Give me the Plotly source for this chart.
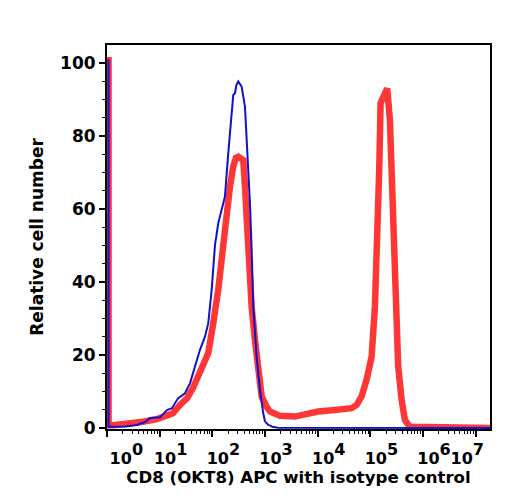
import plotly.graph_objects as go

# Isotype control (blue) histogram: fluorescence value, relative cell number
iso_x = [1.07, 1.07, 1.244, 2.196, 3.71, 5.26, 6.55, 10.13, 13.76, 17.12, 22.25, 30.2, 37.6,
         50.4, 58.2, 72.4, 83.6, 97.0, 112.0, 129.4, 150.2, 173.4, 200.3, 225.4, 249.3,
         268.5, 286.6, 310.1, 359.7, 415.6, 447.7, 480.0, 517.0, 556.8, 597.2, 692.9,
         800.4, 924.5, 995.6, 1140, 1380, 1750, 2.0e7]
iso_y = [101.0, 0.3, 0.3, 0.4, 0.8, 1.6, 2.7, 2.9, 4.9, 5.4, 8.1, 9.5, 12.2,
         18.6, 21.4, 25.0, 28.7, 37.8, 50.0, 56.1, 59.7, 63.4, 75.3, 84.4, 91.2,
         91.7, 94.0, 94.9, 93.5, 88.0, 79.8, 70.7, 61.6, 48.8, 33.2, 19.5,
         10.4, 4.0, 1.8, 0.9, 0.3, 0.05, 0.0]

# CD8 (OKT8) APC stained (red) histogram
cd8_x = [1.07, 1.07, 1.30, 3.11, 4.82, 8.89, 13.76, 17.88, 24.28, 32.96, 42.85, 50.4,
         58.2, 67.2, 83.6, 104.0, 129.4, 161.0, 186.7, 215.8, 249.3, 280.4, 310.1,
         349.0, 385.9, 415.6, 447.7, 480.0, 556.8, 643.2, 743.0, 861.9, 1072.5, 1239,
         1918, 3694, 5717, 10220, 21210, 43990, 54720, 68080, 84730, 105400, 121700,
         136000, 146900, 156100, 208400, 234400, 252600, 270900, 291700, 337000,
         390800, 451400, 561700, 2.0e7]
cd8_y = [101.6, 0.7, 0.7, 1.1, 1.7, 2.4, 3.6, 4.0, 6.3, 8.1, 10.9, 13.2,
         15.0, 16.8, 20.5, 28.7, 37.8, 50.0, 58.8, 66.1, 71.6, 74.0, 74.3,
         74.0, 73.4, 66.1, 57.0, 48.8, 33.2, 24.1, 15.0, 8.6, 5.8, 4.5,
         3.3, 3.1, 3.7, 4.5, 4.9, 5.4, 6.3, 8.6, 13.2, 19.5, 33.2,
         50.0, 70.7, 89.0, 93.0, 84.4, 70.7, 48.8, 33.2, 16.8,
         7.7, 2.2, 0.3, 0.0]

x_tick_vals = [1, 10, 100, 1000, 10000, 100000, 1000000, 10000000]
x_tick_exps = ["0", "1", "2", "3", "4", "5", "6", "7"]
y_tick_vals = [0, 20, 40, 60, 80, 100]

x_title = "CD8 (OKT8) APC with isotype control"
y_title = "Relative cell number"

FONT = "DejaVu Sans"

fig = go.Figure()
fig.add_trace(go.Scatter(x=cd8_x, y=cd8_y, mode="lines",
                         line=dict(color="rgb(255,54,54)", width=6.5),
                         showlegend=False))
fig.add_trace(go.Scatter(x=iso_x, y=iso_y, mode="lines",
                         line=dict(color="rgb(16,16,208)", width=2),
                         showlegend=False))

# edge labels nudged inward (leading / trailing no-break spaces), as in the original
NB = "\u00a0"
lead = [3, 0, 0, 0, 0, 0, 0, 0]
trail = [0, 0, 0, 0, 0, 0, 0, 7]
x_tick_text = [NB * lead[i] + "10<span style='font-size:23px'><sup>%s</sup></span>" % e + NB * trail[i]
               for i, e in enumerate(x_tick_exps)]
minor_vals = [m * 10 ** d for d in range(0, 8) for m in range(2, 10)]

fig.update_layout(
    width=511, height=503,
    margin=dict(l=107, r=21, t=45, b=74),
    plot_bgcolor="white", paper_bgcolor="white",
    font=dict(family=FONT, color="black", size=16),
    xaxis=dict(
        type="log", range=[0, 7.27], automargin=False,
        showline=True, linecolor="black", linewidth=2, mirror=True,
        showgrid=False, zeroline=False,
        ticks="outside", ticklen=6, tickwidth=1.5, tickcolor="black",
        tickvals=x_tick_vals, ticktext=x_tick_text, tickangle=0,
        ticklabelshift=11, ticklabelstandoff=8, ticklabeloverflow="allow",
        tickfont=dict(family=FONT, size=16, weight="bold"),
        minor=dict(ticks="outside", ticklen=3, tickwidth=1.2, tickcolor="black",
                   tickvals=minor_vals, showgrid=False),
        title=dict(text=x_title, font=dict(family=FONT, size=16.6, weight="bold"),
                   standoff=0),
    ),
    yaxis=dict(
        range=[-0.3, 104.9], automargin=False,
        showline=True, linecolor="black", linewidth=2, mirror=True,
        showgrid=False, zeroline=False,
        ticks="outside", ticklen=6, tickwidth=1.5, tickcolor="black",
        tickvals=y_tick_vals,
        tickfont=dict(family=FONT, size=17, weight="bold"),
        minor=dict(ticks="outside", ticklen=3, tickwidth=1.2, tickcolor="black",
                   dtick=5, tick0=0, showgrid=False),
        title=dict(text=y_title, font=dict(family=FONT, size=17, weight="bold"),
                   standoff=12),
    ),
)

fig.write_html("out.html")
